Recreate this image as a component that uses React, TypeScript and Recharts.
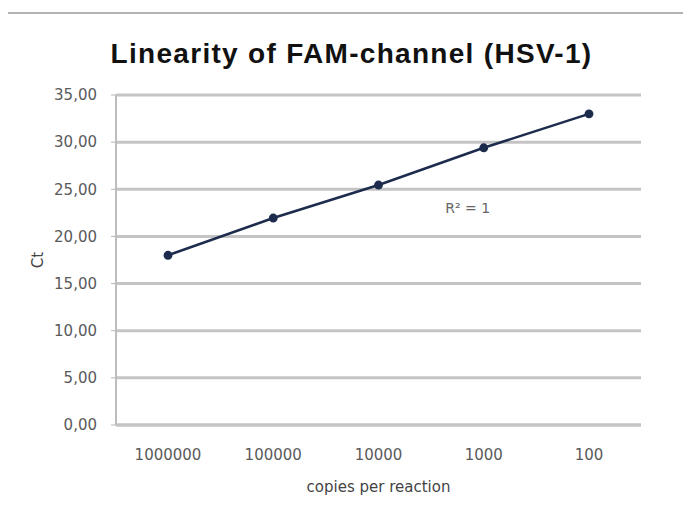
import { LineChart, Line, XAxis, YAxis, CartesianGrid, ReferenceDot } from "recharts";

// copies per reaction (log dilution series)
const copies = ["1000000", "100000", "10000", "1000", "100"];
// Ct values
const ctValues = [18.0, 21.95, 25.45, 29.4, 33.0];
const yTicks = [0, 5, 10, 15, 20, 25, 30, 35];

const data = copies.map((c, i) => ({ copies: c, ct: ctValues[i] }));

const FONT = "'DejaVu Sans', sans-serif";
const TICK_STYLE = { fill: "#5a5a5a", fontSize: 15, fontFamily: FONT };
const NAVY = "#1d2b4c";

const CtLabel = ({ viewBox }: { viewBox?: { x: number; y: number; width: number; height: number } }) => {
  if (!viewBox) return null;
  const x = viewBox.x + 2;
  const y = viewBox.y + viewBox.height / 2;
  return (
    <text x={x} y={y} transform={`rotate(-90, ${x}, ${y})`} textAnchor="middle" dominantBaseline="central"
      fill="#444" fontSize={15} fontFamily={FONT}>
      Ct
    </text>
  );
};

const R2Label = ({ viewBox }: { viewBox?: { x: number; y: number } }) => {
  if (!viewBox) return null;
  return (
    <text x={viewBox.x - 16} y={viewBox.y} textAnchor="middle" dominantBaseline="central"
      fill="#666" fontSize={14} fontFamily={FONT}>
      R² = 1
    </text>
  );
};

export default function App() {
  return (
    <div style={{ position: "absolute", left: 0, top: 0, width: 683, height: 522, background: "#fff", overflow: "hidden" }}>
      {/* chart frame */}
      <div style={{ position: "absolute", left: 8, top: 12, right: 0, height: 0, borderTop: "2px solid #b3b3b3" }} />
      <div style={{
        position: "absolute", left: 0, width: 683, top: 38, textAlign: "center",
        fontFamily: "'Liberation Sans', Arial, sans-serif", fontWeight: 700, fontSize: 28, letterSpacing: 1.3,
        color: "#111", paddingLeft: 20, boxSizing: "border-box",
      }}>
        Linearity of FAM-channel (HSV-1)
      </div>
      <div style={{ position: "absolute", left: 0, top: 0 }}>
        <LineChart width={683} height={522} data={data} margin={{ top: 95, right: 42, left: 36, bottom: 27 }}>
          <CartesianGrid horizontal vertical={false} stroke="#c4c4c4" strokeWidth={3} />
          <XAxis
            dataKey="copies"
            height={70}
            padding={{ left: 52, right: 52 }}
            tick={TICK_STYLE}
            tickLine={false}
            tickMargin={18}
            axisLine={{ stroke: "#c4c4c4", strokeWidth: 3 }}
            label={{ value: "copies per reaction", position: "insideBottom", offset: 3, fill: "#444", fontSize: 15, fontFamily: FONT }}
          />
          <YAxis
            width={80}
            domain={[0, 35]}
            ticks={yTicks}
            tick={TICK_STYLE}
            tickSize={5}
            tickMargin={14}
            tickLine={{ stroke: "#b5b5b5" }}
            axisLine={{ stroke: "#bdbdbd", strokeWidth: 2 }}
            tickFormatter={(v: number) => v.toFixed(2).replace(".", ",")}
            label={<CtLabel />}
          />
          <Line
            type="linear"
            dataKey="ct"
            stroke={NAVY}
            strokeWidth={2.5}
            dot={{ r: 3.2, fill: NAVY, stroke: NAVY }}
            isAnimationActive={false}
          />
          <ReferenceDot x="1000" y={23} r={0} label={<R2Label />} />
        </LineChart>
      </div>
    </div>
  );
}
